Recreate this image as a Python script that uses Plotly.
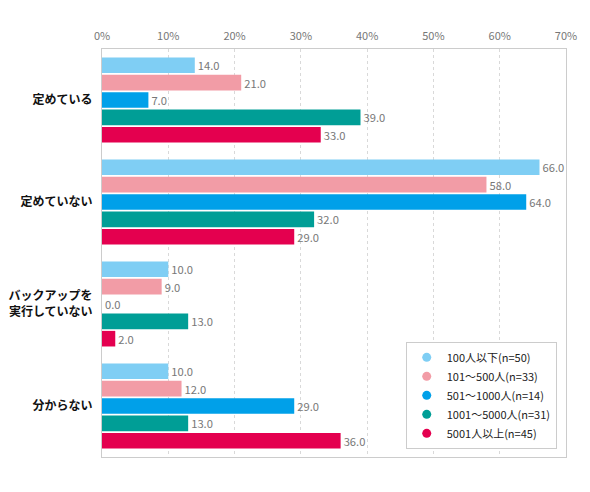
import plotly.graph_objects as go

CATEGORIES = ["定めている", "定めていない", "バックアップを<br>実行していない", "分からない"]
SERIES_NAMES = [
    "100人以下(n=50)",
    "101～500人(n=33)",
    "501～1000人(n=14)",
    "1001～5000人(n=31)",
    "5001人以上(n=45)",
]
VALUES = [
    [14.0, 66.0, 10.0, 10.0],
    [21.0, 58.0, 9.0, 12.0],
    [7.0, 64.0, 0.0, 29.0],
    [39.0, 32.0, 13.0, 13.0],
    [33.0, 29.0, 2.0, 36.0],
]
COLORS = ["#7fcef4", "#f29ca6", "#00a0e9", "#009e96", "#e4004f"]
TICK_VALUES = [0, 10, 20, 30, 40, 50, 60, 70]
TICK_LABELS = [f"{v}%" for v in TICK_VALUES]

FONT = "Noto Sans CJK JP"


def build_chart():
    fig = go.Figure()
    for name, vals, color in zip(SERIES_NAMES, VALUES, COLORS):
        fig.add_trace(
            go.Bar(
                y=CATEGORIES,
                x=vals,
                orientation="h",
                name=name,
                marker={"color": color, "line": {"width": 0}},
                texttemplate="%{x:.1f}",
                textposition="outside",
                textfont={"color": "#777777", "size": 11.5},
                cliponaxis=False,
                showlegend=False,
            )
        )
    # round legend markers
    for name, color in zip(SERIES_NAMES, COLORS):
        fig.add_trace(
            go.Scatter(
                x=[None],
                y=[None],
                mode="markers",
                name=name,
                marker={"color": color, "size": 9, "symbol": "circle"},
            )
        )

    # page body adds an 8px margin, so the figure is a little smaller
    fig.update_layout(
        width=582,
        height=484,
        margin={"l": 94, "r": 24, "t": 41, "b": 35},
        paper_bgcolor="white",
        plot_bgcolor="white",
        font={"family": FONT, "color": "#333333"},
        barmode="group",
        bargap=0.15,
        bargroupgap=0.1,
        showlegend=True,
        legend={
            "x": 0.98,
            "y": 0.02,
            "xanchor": "right",
            "yanchor": "bottom",
            "bgcolor": "white",
            "bordercolor": "#cccccc",
            "borderwidth": 1,
            "font": {"size": 11, "color": "#222222"},
            "tracegroupgap": 0,
            "itemwidth": 30,
        },
        xaxis={
            "side": "top",
            "range": [0, 70],
            "tickvals": TICK_VALUES,
            "ticktext": TICK_LABELS,
            "tickfont": {"size": 11, "color": "#777777"},
            "showgrid": True,
            "gridcolor": "#d9d9d9",
            "griddash": "dot",
            "zeroline": False,
            "showline": True,
            "linecolor": "#cccccc",
            "mirror": True,
            "ticks": "",
            "ticklabelstandoff": 4,
            "automargin": False,
            "fixedrange": True,
        },
        yaxis={
            "autorange": "reversed",
            "tickfont": {"size": 12, "color": "#111111", "weight": "bold"},
            "showline": True,
            "linecolor": "#cccccc",
            "mirror": True,
            "ticks": "",
            "ticklabelstandoff": 6,
            "automargin": False,
            "showgrid": False,
        },
    )
    return fig


def main():
    fig = build_chart()
    fig.write_html("out.html")


if __name__ == "__main__":
    main()
